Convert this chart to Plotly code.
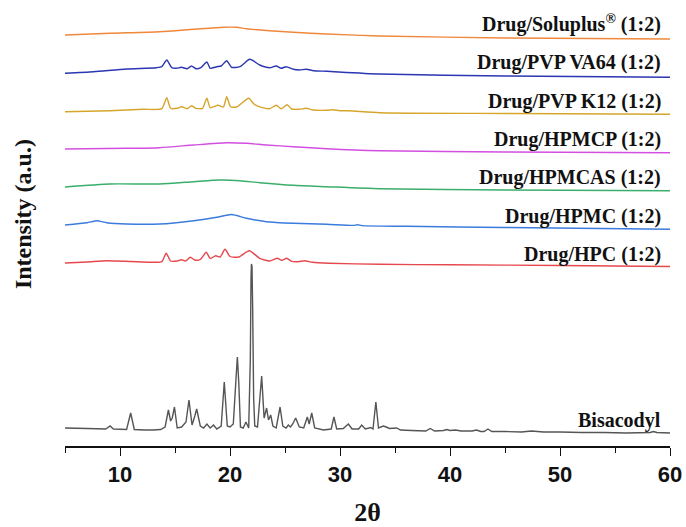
import plotly.graph_objects as go

# ---- data: (2theta, intensity a.u. relative to each pattern's own baseline) ----
bisacodyl = [(5.0, 0), (7.0, -0.5), (8.7, -1), (9.1, 2), (9.4, -1), (10.6, -1.5), (10.97, 15), (11.3, -1.5),
             (12.2, -2), (13.0, -2), (13.7, -1.5), (14.1, 1), (14.4, 18), (14.6, 7), (14.75, 10), (14.95, 21),
             (15.2, 0), (15.6, 1), (16.0, 6), (16.27, 28), (16.55, 3), (16.8, 12), (16.97, 19), (17.3, 2),
             (17.6, 0), (17.9, 4), (18.2, 0), (18.5, 3), (18.8, -1), (19.2, 2), (19.48, 46), (19.75, 2),
             (20.0, 1), (20.3, 4), (20.55, 50), (20.67, 71), (20.8, 45), (20.95, 1), (21.2, 0), (21.45, 6),
             (21.7, 0), (21.85, 70), (21.91, 150), (21.95, 164), (22.0, 162), (22.06, 120), (22.15, 30),
             (22.25, 2), (22.5, 1), (22.88, 52), (23.1, 10), (23.33, 20), (23.5, 8), (23.7, 13), (23.9, 2),
             (24.2, 0), (24.55, 21), (24.8, 2), (25.1, 0), (25.3, 3), (25.5, 1), (25.7, 4), (25.97, 10),
             (26.3, 1), (26.7, 0), (27.03, 11), (27.2, 4), (27.43, 15), (27.7, 0), (28.5, -2), (29.2, -1),
             (29.45, 11), (29.7, -1), (30.3, -0.5), (30.76, 4), (31.1, -1), (31.7, -1), (31.97, 3), (32.3, -1),
             (32.8, 0.5), (33.0, -1), (33.26, 26), (33.5, 0), (33.94, 2), (34.2, 1), (34.5, -0.5), (35.15, 0),
             (35.5, -2), (36.5, -2.5), (37.8, -3), (38.2, -0.5), (38.6, -3), (39.4, -2.5), (39.7, -1.5),
             (40.0, -2.5), (40.5, -2), (41.0, -3), (42.0, -3), (42.4, -2), (42.8, -3.5), (43.1, -3.5),
             (43.45, -1), (43.8, -3.5), (45.0, -3.5), (46.5, -4), (47.4, -3), (48.5, -4), (50.0, -4),
             (52.0, -4.5), (54.0, -4.5), (56.0, -5), (58.2, -4.5), (58.5, -3.5), (58.8, -4.5), (60.0, -5)]

hpc = [(5.0, 0), (7.0, 1), (8.8, 2.3), (11.0, 1.5), (13.0, 0.7), (13.8, 1.3), (14.2, 9.7), (14.6, 2),
       (15.2, 2), (15.6, 3.2), (15.95, 2), (16.4, 5.7), (16.8, 3), (17.3, 3.5), (17.85, 10.7), (18.2, 4.5),
       (18.7, 7.3), (19.1, 6), (19.55, 13.7), (20.0, 6.5), (20.8, 6), (21.75, 12.3), (22.7, 4.7), (23.6, 2),
       (24.3, 4.7), (24.7, 2.7), (25.15, 4.7), (25.6, 1.7), (26.2, 1.3), (26.8, 2.2), (27.5, 0.7),
       (29.0, -0.3), (33.6, -1.3), (40.0, -1.8), (50.0, -2.5), (60.0, -3.5)]

hpmc = [(5.0, 0), (7.0, 2.3), (7.9, 4.3), (8.8, 2.3), (10.6, 1), (13.6, 1), (16.7, 4.3), (18.8, 7.7),
        (20.15, 10.5), (21.5, 6.7), (23.3, 3.3), (25.75, 1.7), (28.8, 0.7), (31.2, -0.4), (31.6, 0.2),
        (32.0, -0.6), (36.0, -1.3), (45.0, -2.5), (60.0, -4.3)]

hpmcas = [(5.0, 0), (9.1, 3), (13.6, 3), (16.7, 5.3), (19.1, 7), (20.9, 6.3), (22.7, 4.3), (25.75, 1.7),
          (28.8, 0.3), (33.6, -1.7), (45.0, -3), (60.0, -3.7)]

hpmcp = [(5.0, 0), (10.6, 0.7), (13.6, 1.3), (16.7, 4), (19.7, 6.3), (21.5, 5.7), (23.3, 4), (25.75, 2.3),
         (28.8, 0.3), (33.6, -1.7), (45.0, -3), (60.0, -3.7)]

pvp_k12 = [(5.0, 0.3), (9.1, 1.3), (12.1, 2.7), (13.8, 3.3), (14.25, 14.3), (14.6, 3.7), (15.2, 3.7),
           (15.6, 5.3), (16.1, 3.3), (16.5, 6.3), (16.9, 3.7), (17.5, 3.7), (17.9, 13.7), (18.2, 4.3),
           (18.9, 6.7), (19.4, 5), (19.7, 15.3), (20.05, 5.3), (20.6, 5), (21.7, 13.7), (22.2, 7.7),
           (22.85, 4.7), (23.6, 3.3), (24.2, 6.7), (24.65, 3.3), (25.2, 7.3), (25.6, 3), (26.3, 2.7),
           (26.95, 3.7), (27.5, 2), (28.8, 1.7), (29.4, 2.3), (30.0, 1.3), (30.8, 1.3), (33.6, -0.7),
           (45.0, -1.5), (60.0, -2.3)]

pvp_va64 = [(5.0, -0.3), (7.6, 1.3), (10.6, 4), (13.3, 5.3), (13.8, 6.3), (14.25, 13), (14.7, 5.3),
            (15.1, 4.7), (15.6, 5.7), (16.1, 4.3), (16.5, 7), (16.9, 4.3), (17.35, 5.3), (17.9, 11),
            (18.2, 4.7), (18.8, 6.3), (19.2, 7), (19.7, 12.3), (20.15, 5.7), (20.9, 6.3), (21.8, 13.7),
            (22.7, 8), (23.6, 5.3), (24.2, 7), (24.65, 4.7), (25.1, 6.3), (25.75, 3.7), (26.3, 3),
            (26.95, 3.7), (27.6, 2.3), (28.8, 1.7), (33.6, -1), (45.0, -3), (60.0, -4.3)]

soluplus = [(5.0, 0), (9.1, 1.7), (13.6, 3.3), (16.7, 5.7), (19.4, 7.7), (20.6, 7.7), (21.5, 6.3),
            (23.6, 4.3), (25.75, 2.7), (28.8, 1), (33.6, -1), (45.0, -3), (60.0, -4)]

names = ["Bisacodyl", "Drug/HPC (1:2)", "Drug/HPMC (1:2)", "Drug/HPMCAS (1:2)", "Drug/HPMCP (1:2)",
         "Drug/PVP K12 (1:2)", "Drug/PVP VA64 (1:2)", "Drug/Soluplus<sup>®</sup> (1:2)"]
patterns = [bisacodyl, hpc, hpmc, hpmcas, hpmcp, pvp_k12, pvp_va64, soluplus]
offsets = [18, 183, 221, 259, 297, 334, 373, 411]          # vertical stacking offsets (a.u.)
label_y = [26, 192, 230, 268.5, 307, 345, 383.5, 422.5]     # label centres (a.u.)
colors = ["#555555", "#e5484d", "#3a7bdc", "#3aae6b", "#d24fe0", "#d6a62c", "#2b36b2", "#f0883c"]

x_ticks = [10, 20, 30, 40, 50, 60]

fig = go.Figure()
for i, (nm, pts) in enumerate(zip(names, patterns)):
    xs = [p[0] for p in pts]
    ys = [p[1] + offsets[i] for p in pts]
    fig.add_trace(go.Scatter(
        x=xs, y=ys, mode="lines", name=nm,
        line=dict(color=colors[i], width=1.4, simplify=False,
                  shape="linear" if i == 0 else "spline",
                  smoothing=0 if i == 0 else 0.6),
        showlegend=False, hoverinfo="skip"))
    fig.add_annotation(x=59.36, y=label_y[i], xref="x", yref="y", text=f"<b>{nm}</b>",
                       showarrow=False, xanchor="right", yanchor="middle",
                       font=dict(family="Liberation Serif", size=20, color="#111111"))

fig.add_annotation(xref="paper", yref="paper", x=0, xshift=-42, y=0.527, text="<b>Intensity (a.u.)</b>",
                   textangle=-90, showarrow=False, xanchor="center", yanchor="middle",
                   font=dict(family="Liberation Serif", size=24, color="#111111"))

fig.update_layout(
    width=686, height=527, margin=dict(l=65, r=16, t=6, b=81, autoexpand=False),
    paper_bgcolor="white", plot_bgcolor="white",
    xaxis=dict(range=[5, 60], tickvals=x_ticks, ticks="outside", ticklen=8, tickwidth=1.3,
               tickcolor="#111", showline=True, linecolor="#111", linewidth=1.5,
               showgrid=False, zeroline=False, automargin=False,
               minor=dict(dtick=5, tick0=5, ticks="outside", ticklen=5, tickwidth=1.3, tickcolor="#111"),
               tickfont=dict(family="Liberation Sans", size=22, color="#111", weight="bold"),
               title=dict(text="<b>2θ</b>", font=dict(family="Liberation Serif", size=26, color="#111"),
                          standoff=22)),
    yaxis=dict(range=[0, 440], visible=False, showgrid=False, zeroline=False),
)

fig.write_html("out.html")
